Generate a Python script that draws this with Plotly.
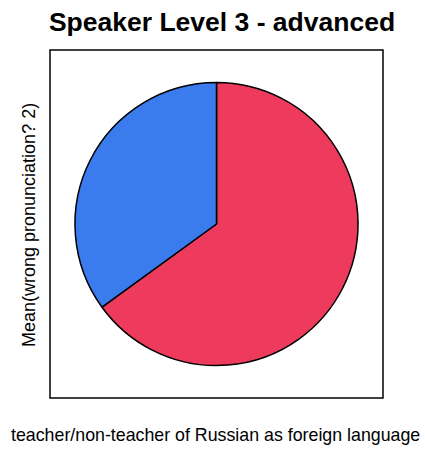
import plotly.graph_objects as go

categories = ["non-teacher", "teacher"]
values = [0.65, 0.35]
colors = ["#EE3A5C", "#3A7BEE"]

title_text = "Speaker Level 3 - advanced"
y_label = "Mean(wrong pronunciation? 2)"
x_label = "teacher/non-teacher of Russian as foreign language"

W, H = 425, 450
L, R, T, B = 50, 42, 50, 52
PW, PH = W - L - R, H - T - B


def px_x(fx):
    return (fx - L) / PW


def px_y(fy):
    return (H - B - fy) / PH


fig = go.Figure(go.Pie(
    labels=categories,
    values=values,
    sort=False,
    direction="clockwise",
    rotation=0,
    marker=dict(colors=colors, line=dict(color="black", width=1.5)),
    textinfo="none",
    hoverinfo="label+value",
    domain=dict(x=[0.075, 0.925], y=[0.0, 1.0]),
    showlegend=False,
))

fig.update_layout(
    width=W, height=H,
    margin=dict(l=L, r=R, t=T, b=B),
    paper_bgcolor="white", plot_bgcolor="white",
    font=dict(family="Liberation Sans, Arial, sans-serif", color="black"),
    title=dict(text="<b>" + title_text + "</b>", x=222 / W, xanchor="center",
               y=1 - 22 / H, yanchor="middle", font=dict(size=26.5, color="black")),
    shapes=[dict(type="rect", xref="paper", yref="paper", x0=0, x1=1, y0=0, y1=1,
                 line=dict(color="black", width=1.5))],
    annotations=[
        dict(text=y_label, xref="paper", yref="paper", x=px_x(29), y=px_y(225),
             xanchor="center", yanchor="middle", textangle=-90, showarrow=False,
             font=dict(size=18)),
        dict(text=x_label, xref="paper", yref="paper", x=px_x(215),
             y=px_y(435), xanchor="center", yanchor="middle", showarrow=False,
             font=dict(size=17.8)),
    ],
)

fig.write_html("out.html",
               config={"displayModeBar": False},
               post_script="document.body.style.margin='0';document.body.style.overflow='hidden';")
